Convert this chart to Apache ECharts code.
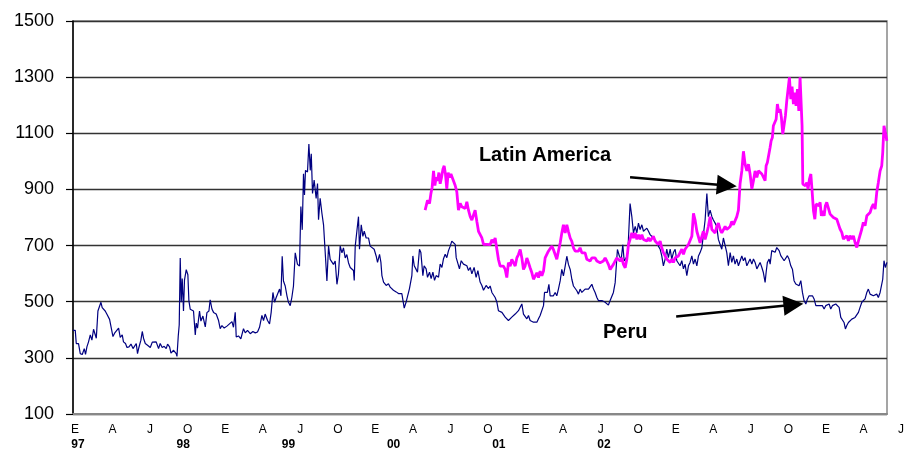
<!DOCTYPE html>
<html>
<head>
<meta charset="utf-8">
<script src="https://cdn.jsdelivr.net/npm/echarts@6/dist/echarts.min.js"></script>
<style>
  html, body { margin: 0; padding: 0; background: #fff; }
  #chart { width: 907px; height: 455px; }
</style>
</head>
<body>
<div id="chart"></div>
<script>
// eje x en meses desde enero 1997
const monthLabels = ['E', 'A', 'J', 'O', 'E', 'A', 'J', 'O', 'E', 'A', 'J', 'O',
  'E', 'A', 'J', 'O', 'E', 'A', 'J', 'O', 'E', 'A', 'J']
const yearLabels = ['97', '98', '99', '00', '01', '02']

// Peru [mes, puntos basicos]
const peruPoints = [
  [-0.18, 398], [0.00, 398], [0.08, 351], [0.26, 351], [0.40, 315], [0.56, 312], [0.72, 333], [0.82, 312],
  [0.93, 339], [1.06, 357], [1.20, 382], [1.33, 363], [1.46, 402], [1.60, 406], [1.68, 370], [1.81, 467],
  [1.94, 467], [2.05, 498], [2.15, 479], [2.26, 479], [2.39, 467], [2.53, 455], [2.74, 437], [2.85, 439],
  [3.01, 376], [3.14, 388], [3.27, 394], [3.46, 406], [3.59, 373], [3.75, 382], [3.85, 357], [4.01, 351],
  [4.13, 337], [4.29, 339], [4.45, 349], [4.61, 333], [4.71, 337], [4.87, 351], [4.97, 315], [5.08, 337],
  [5.24, 363], [5.35, 394], [5.45, 370], [5.59, 351], [5.77, 345], [5.99, 337], [6.15, 356], [6.30, 349],
  [6.46, 357], [6.65, 333], [6.78, 351], [6.94, 337], [7.10, 341], [7.26, 333], [7.37, 349], [7.53, 339],
  [7.64, 317], [7.85, 327], [8.06, 315], [8.12, 305], [8.22, 376], [8.30, 418], [8.32, 479], [8.38, 656],
  [8.46, 498], [8.54, 583], [8.64, 467], [8.72, 577], [8.86, 614], [8.99, 596], [9.07, 504], [9.18, 473],
  [9.31, 479], [9.44, 467], [9.58, 382], [9.66, 424], [9.76, 406], [9.92, 467], [10.03, 431], [10.19, 449],
  [10.38, 410], [10.51, 461], [10.67, 467], [10.77, 507], [10.91, 474], [11.04, 462], [11.25, 456], [11.44, 433],
  [11.57, 404], [11.71, 415], [11.89, 406], [12.11, 413], [12.31, 421], [12.51, 429], [12.63, 409], [12.77, 462],
  [12.85, 374], [13.03, 378], [13.22, 368], [13.43, 404], [13.57, 389], [13.75, 398], [13.97, 386], [14.18, 394],
  [14.37, 389], [14.55, 392], [14.71, 409], [14.90, 451], [15.03, 433], [15.16, 456], [15.35, 433], [15.51, 421],
  [15.64, 462], [15.78, 533], [15.91, 498], [16.04, 515], [16.18, 509], [16.31, 545], [16.42, 521], [16.52, 662],
  [16.62, 574], [16.76, 556], [16.90, 521], [17.02, 498], [17.16, 486], [17.29, 515], [17.42, 556], [17.56, 674],
  [17.74, 633], [17.90, 627], [18.01, 839], [18.12, 756], [18.22, 956], [18.30, 880], [18.38, 968], [18.54, 962],
  [18.65, 1062], [18.76, 968], [18.84, 1027], [18.94, 886], [19.07, 933], [19.23, 868], [19.34, 921], [19.42, 792],
  [19.55, 868], [19.69, 815], [19.82, 774], [19.95, 780], [20.09, 574], [20.22, 698], [20.35, 651], [20.49, 651],
  [20.61, 633], [20.75, 645], [20.89, 562], [21.01, 598], [21.15, 698], [21.29, 674], [21.41, 692], [21.55, 656],
  [21.68, 668], [21.81, 639], [21.95, 622], [22.21, 611], [22.27, 576], [22.35, 698], [22.48, 751], [22.61, 803],
  [22.69, 687], [22.83, 774], [22.96, 733], [23.07, 751], [23.22, 727], [23.41, 727], [23.54, 698], [23.68, 704],
  [23.86, 687], [24.02, 663], [24.13, 640], [24.29, 669], [24.40, 640], [24.48, 593], [24.61, 570], [24.82, 558],
  [25.00, 564], [25.14, 552], [25.28, 558], [25.40, 541], [25.62, 535], [25.80, 529], [25.94, 523], [26.07, 529],
  [26.20, 494], [26.26, 477], [26.42, 500], [26.55, 500], [26.68, 547], [26.87, 593], [26.95, 663], [27.06, 628],
  [27.19, 617], [27.32, 605], [27.48, 687], [27.59, 675], [27.75, 593], [27.85, 628], [28.01, 617], [28.12, 587],
  [28.28, 605], [28.41, 582], [28.55, 605], [28.68, 576], [28.81, 593], [29.00, 587], [29.13, 634], [29.27, 622],
  [29.39, 652], [29.53, 669], [29.66, 657], [29.79, 681], [29.93, 698], [30.06, 716], [30.19, 710], [30.33, 704],
  [30.41, 657], [30.54, 657], [30.67, 617], [30.81, 646], [30.99, 634], [31.13, 640], [31.26, 628], [31.39, 611],
  [31.53, 622], [31.66, 599], [31.84, 622], [32.00, 587], [32.14, 611], [32.32, 570], [32.46, 558], [32.59, 541],
  [32.80, 558], [32.99, 547], [33.12, 556], [33.26, 533], [33.38, 527], [33.52, 515], [33.66, 498], [33.78, 468],
  [33.92, 468], [34.06, 462], [34.18, 456], [34.32, 445], [34.45, 451], [34.58, 433], [34.72, 439], [34.85, 445],
  [34.98, 451], [35.12, 456], [35.25, 462], [35.38, 468], [35.52, 474], [35.65, 492], [35.78, 456], [35.91, 451],
  [36.05, 439], [36.18, 451], [36.31, 433], [36.45, 439], [36.58, 427], [36.71, 421], [36.85, 427], [36.98, 439],
  [37.11, 451], [37.25, 456], [37.38, 486], [37.46, 533], [37.59, 539], [37.69, 533], [37.81, 562], [37.91, 521],
  [38.05, 527], [38.17, 521], [38.31, 533], [38.44, 521], [38.57, 545], [38.71, 574], [38.84, 615], [38.97, 592],
  [39.11, 627], [39.24, 662], [39.37, 633], [39.51, 615], [39.64, 580], [39.77, 556], [39.91, 551], [40.04, 539],
  [40.17, 527], [40.30, 545], [40.44, 533], [40.57, 539], [40.70, 545], [40.84, 545], [40.97, 545], [41.10, 551],
  [41.24, 562], [41.37, 545], [41.50, 533], [41.64, 515], [41.76, 504], [41.90, 509], [42.04, 504], [42.16, 504],
  [42.30, 498], [42.43, 498], [42.56, 488], [42.70, 504], [42.83, 509], [42.96, 533], [43.10, 568], [43.18, 621],
  [43.28, 686], [43.44, 662], [43.58, 651], [43.71, 703], [43.82, 645], [43.98, 656], [44.11, 674], [44.29, 850],
  [44.43, 803], [44.56, 745], [44.70, 768], [44.83, 745], [44.96, 780], [45.09, 757], [45.23, 774], [45.36, 751],
  [45.49, 745], [45.63, 762], [45.76, 751], [45.89, 739], [46.03, 745], [46.15, 727], [46.29, 722], [46.43, 710],
  [46.55, 698], [46.69, 687], [46.82, 663], [46.95, 628], [47.09, 652], [47.22, 687], [47.35, 657], [47.49, 687],
  [47.62, 652], [47.75, 675], [47.89, 687], [48.02, 646], [48.15, 652], [48.28, 628], [48.42, 646], [48.55, 617],
  [48.68, 634], [48.82, 593], [48.95, 628], [49.08, 640], [49.22, 663], [49.35, 634], [49.48, 652], [49.62, 628],
  [49.75, 663], [49.88, 675], [50.02, 692], [50.14, 687], [50.28, 791], [50.42, 885], [50.54, 803], [50.68, 826],
  [50.82, 803], [50.94, 791], [51.08, 780], [51.21, 768], [51.34, 722], [51.48, 704], [51.61, 687], [51.74, 727],
  [51.88, 733], [52.01, 675], [52.14, 628], [52.28, 675], [52.41, 640], [52.54, 663], [52.67, 634], [52.81, 652],
  [52.94, 628], [53.07, 634], [53.21, 663], [53.34, 646], [53.47, 657], [53.61, 628], [53.74, 634], [53.87, 652],
  [54.01, 634], [54.14, 652], [54.27, 640], [54.41, 617], [54.54, 622], [54.67, 640], [54.81, 622], [54.93, 604],
  [55.07, 569], [55.15, 604], [55.25, 640], [55.39, 652], [55.47, 634], [55.60, 682], [55.73, 688], [55.87, 676],
  [56.00, 693], [56.08, 699], [56.19, 682], [56.32, 664], [56.45, 658], [56.59, 646], [56.72, 652], [56.85, 664],
  [56.98, 652], [57.12, 628], [57.25, 616], [57.38, 575], [57.52, 563], [57.65, 569], [57.78, 557], [57.92, 575],
  [58.05, 533], [58.18, 504], [58.32, 492], [58.45, 510], [58.58, 521], [58.72, 515], [58.85, 521], [58.98, 510],
  [59.12, 486], [59.24, 480], [59.38, 486], [59.51, 480], [59.64, 486], [59.78, 474], [59.91, 486], [60.04, 480],
  [60.18, 492], [60.31, 474], [60.44, 486], [60.58, 486], [60.71, 492], [60.84, 486], [60.98, 480], [61.11, 444],
  [61.24, 438], [61.37, 426], [61.48, 403], [61.59, 415], [61.72, 426], [61.85, 426], [61.99, 438], [62.12, 438],
  [62.25, 444], [62.39, 450], [62.52, 462], [62.65, 480], [62.79, 498], [62.91, 498], [63.05, 510], [63.19, 533],
  [63.31, 545], [63.45, 527], [63.58, 533], [63.71, 521], [63.85, 515], [63.98, 527], [64.11, 515], [64.25, 533],
  [64.38, 539], [64.46, 580], [64.56, 646], [64.67, 622], [64.79, 640]
]

// Latin America [mes, puntos basicos]
const latamPoints = [
  [27.93, 826], [28.01, 832], [28.12, 861], [28.28, 850], [28.39, 885], [28.49, 908], [28.60, 966], [28.71, 914],
  [28.81, 943], [28.92, 931], [29.03, 960], [29.13, 920], [29.24, 943], [29.35, 972], [29.45, 984], [29.55, 955],
  [29.66, 902], [29.77, 960], [29.87, 943], [29.99, 955], [30.09, 949], [30.19, 931], [30.33, 914], [30.46, 891],
  [30.59, 826], [30.73, 850], [30.86, 838], [30.99, 844], [31.13, 832], [31.26, 856], [31.39, 826], [31.53, 803],
  [31.66, 791], [31.79, 797], [31.92, 826], [32.06, 786], [32.19, 751], [32.32, 745], [32.46, 727], [32.59, 704],
  [32.72, 698], [32.86, 704], [32.99, 698], [33.12, 703], [33.26, 721], [33.38, 709], [33.52, 727], [33.66, 686],
  [33.78, 651], [33.92, 627], [34.06, 621], [34.18, 627], [34.32, 615], [34.45, 586], [34.58, 639], [34.72, 627],
  [34.85, 651], [34.98, 645], [35.12, 627], [35.25, 656], [35.38, 668], [35.52, 686], [35.65, 656], [35.78, 615],
  [35.91, 627], [36.05, 656], [36.18, 639], [36.31, 621], [36.45, 603], [36.58, 580], [36.71, 574], [36.85, 603],
  [36.98, 586], [37.11, 609], [37.25, 592], [37.38, 609], [37.51, 656], [37.65, 662], [37.77, 680], [37.91, 686],
  [38.05, 698], [38.17, 686], [38.31, 668], [38.44, 651], [38.57, 680], [38.71, 709], [38.84, 745], [38.97, 774],
  [39.11, 745], [39.24, 774], [39.37, 750], [39.51, 727], [39.64, 715], [39.77, 692], [39.91, 680], [40.04, 686],
  [40.17, 680], [40.30, 692], [40.44, 674], [40.57, 668], [40.70, 674], [40.84, 651], [40.97, 651], [41.10, 645],
  [41.24, 656], [41.37, 651], [41.50, 656], [41.64, 645], [41.76, 651], [41.90, 639], [42.04, 645], [42.16, 645],
  [42.30, 656], [42.43, 645], [42.56, 633], [42.70, 615], [42.83, 621], [42.96, 633], [43.10, 639], [43.23, 656],
  [43.36, 651], [43.50, 645], [43.63, 656], [43.76, 633], [43.90, 621], [44.03, 651], [44.16, 703], [44.29, 722],
  [44.43, 745], [44.56, 727], [44.70, 745], [44.83, 722], [44.96, 739], [45.09, 722], [45.23, 739], [45.36, 722],
  [45.49, 727], [45.63, 716], [45.76, 727], [45.89, 716], [46.03, 722], [46.15, 733], [46.29, 716], [46.43, 722],
  [46.55, 704], [46.69, 716], [46.82, 692], [46.95, 675], [47.09, 663], [47.22, 652], [47.35, 657], [47.49, 640],
  [47.62, 652], [47.75, 640], [47.89, 657], [48.02, 652], [48.15, 663], [48.28, 675], [48.42, 687], [48.55, 669],
  [48.68, 687], [48.82, 687], [48.95, 704], [49.08, 710], [49.22, 733], [49.35, 815], [49.48, 791], [49.62, 751],
  [49.75, 757], [49.88, 710], [50.02, 733], [50.14, 751], [50.28, 722], [50.42, 745], [50.54, 768], [50.68, 803],
  [50.82, 757], [50.94, 751], [51.08, 745], [51.21, 768], [51.34, 780], [51.48, 757], [51.61, 745], [51.74, 739],
  [51.88, 768], [52.01, 757], [52.14, 751], [52.28, 768], [52.41, 786], [52.54, 774], [52.67, 780], [52.81, 803],
  [52.94, 826], [53.07, 920], [53.21, 966], [53.34, 1036], [53.47, 990], [53.61, 966], [53.74, 990], [53.87, 955],
  [54.01, 902], [54.14, 931], [54.27, 966], [54.41, 943], [54.54, 966], [54.81, 955], [54.93, 961], [55.07, 931],
  [55.15, 984], [55.25, 996], [55.39, 990], [55.47, 1050], [55.55, 1073], [55.65, 1085], [55.73, 1127], [55.87, 1121],
  [55.95, 1150], [56.05, 1204], [56.16, 1174], [56.27, 1186], [56.37, 1156], [56.48, 1097], [56.59, 1091], [56.69, 1162],
  [56.80, 1216], [56.91, 1210], [57.01, 1299], [57.12, 1222], [57.22, 1266], [57.33, 1204], [57.44, 1245], [57.54, 1198],
  [57.65, 1257], [57.76, 1180], [57.86, 1299], [57.97, 1293], [58.02, 1127], [58.08, 919], [58.18, 919], [58.29, 913],
  [58.40, 925], [58.50, 901], [58.61, 937], [58.72, 955], [58.82, 895], [58.93, 824], [59.04, 794], [59.14, 848],
  [59.24, 854], [59.36, 842], [59.46, 854], [59.56, 806], [59.67, 824], [59.78, 806], [59.88, 842], [59.99, 854],
  [60.12, 848], [60.26, 812], [60.39, 812], [60.52, 800], [60.66, 806], [60.79, 794], [60.92, 794], [61.05, 759],
  [61.19, 747], [61.32, 723], [61.45, 717], [61.59, 735], [61.72, 717], [61.85, 735], [61.99, 723], [62.12, 735],
  [62.25, 711], [62.39, 693], [62.52, 717], [62.65, 723], [62.79, 759], [62.91, 783], [63.05, 771], [63.19, 806],
  [63.31, 812], [63.45, 818], [63.58, 836], [63.71, 848], [63.85, 830], [63.98, 889], [64.11, 925], [64.25, 966],
  [64.38, 984], [64.46, 1032], [64.56, 1127], [64.67, 1133], [64.79, 1073]
]

// flechas y rotulos [mes, valor]
const latamArrow = [[44.29, 943], [52.01, 914]]
const peruArrow = [[47.97, 447], [57.33, 489]]
const latamLabelAt = [37.5, 1020]
const peruLabelAt = [43.9, 390]

const FONT = "'Liberation Sans', Arial, sans-serif"

const chart = echarts.init(document.getElementById('chart'), null, { renderer: 'canvas' })

const arrowLine = (pts) => ({
  silent: true,
  symbol: ['none', 'triangle'],
  symbolSize: 20,
  label: { show: false },
  lineStyle: { color: '#000', width: 2.5, type: 'solid' },
  emphasis: { disabled: true },
  data: [[{ coord: pts[0] }, { coord: pts[1] }]]
})

const textPoint = (text, at) => ({
  silent: true,
  symbol: 'rect',
  symbolSize: 1,
  itemStyle: { color: 'rgba(0,0,0,0)' },
  label: {
    show: true,
    position: 'inside',
    formatter: text,
    color: '#000',
    fontFamily: FONT,
    fontWeight: 'bold',
    fontSize: 20
  },
  data: [{ coord: at }]
})

const option = {
  animation: false,
  backgroundColor: '#fff',
  grid: [
    // area del grafico
    { left: 73, right: 20, top: 21, bottom: 41, show: true, borderColor: '#888', borderWidth: 1.5 },
    // rotulos de meses
    { left: 75, right: 5, top: 21, bottom: 41 },
    // rotulos de anos
    { left: 78, right: 303, top: 21, bottom: 41 }
  ],
  xAxis: [
    {
      gridIndex: 0,
      type: 'value',
      min: -0.18,
      max: 64.8,
      axisLine: { show: true, onZero: false, lineStyle: { color: '#888', width: 2 } },
      axisTick: { show: false },
      axisLabel: { show: false },
      splitLine: { show: false }
    },
    {
      gridIndex: 1,
      type: 'value',
      min: 0,
      max: 66,
      interval: 3,
      axisLine: { show: false },
      axisTick: { show: false },
      splitLine: { show: false },
      axisLabel: {
        margin: 10,
        color: '#000',
        fontFamily: FONT,
        fontSize: 12,
        showMinLabel: true,
        showMaxLabel: true,
        formatter: (v) => monthLabels[Math.round(v / 3)] || ''
      }
    },
    {
      gridIndex: 2,
      type: 'category',
      boundaryGap: false,
      data: yearLabels,
      axisLine: { show: false },
      axisTick: { show: false },
      splitLine: { show: false },
      axisLabel: {
        interval: 0,
        margin: 25,
        color: '#000',
        fontFamily: FONT,
        fontWeight: 'bold',
        fontSize: 12
      }
    }
  ],
  yAxis: [
    {
      gridIndex: 0,
      type: 'value',
      min: 100,
      max: 1500,
      interval: 200,
      axisLine: { show: true, onZero: false, lineStyle: { color: '#000', width: 1.5 } },
      axisTick: { show: true, inside: false, length: 7, lineStyle: { color: '#000', width: 1.2 } },
      axisLabel: {
        margin: 19,
        color: '#000',
        fontFamily: FONT,
        fontSize: 18,
        formatter: (v) => String(v)
      },
      splitLine: { show: true, lineStyle: { color: '#333', width: 1.3 } }
    },
    { gridIndex: 1, type: 'value', show: false },
    { gridIndex: 2, type: 'value', show: false }
  ],
  series: [
    {
      name: 'Peru',
      type: 'line',
      xAxisIndex: 0,
      yAxisIndex: 0,
      data: peruPoints,
      showSymbol: false,
      lineStyle: { color: '#000080', width: 1.2 },
      markLine: arrowLine(peruArrow),
      markPoint: textPoint('Peru', peruLabelAt)
    },
    {
      name: 'Latin America',
      type: 'line',
      xAxisIndex: 0,
      yAxisIndex: 0,
      data: latamPoints,
      showSymbol: false,
      lineStyle: { color: '#FF00FF', width: 2.8 },
      markLine: arrowLine(latamArrow),
      markPoint: textPoint('Latin America', latamLabelAt)
    }
  ]
}

chart.setOption(option)
</script>
</body>
</html>
